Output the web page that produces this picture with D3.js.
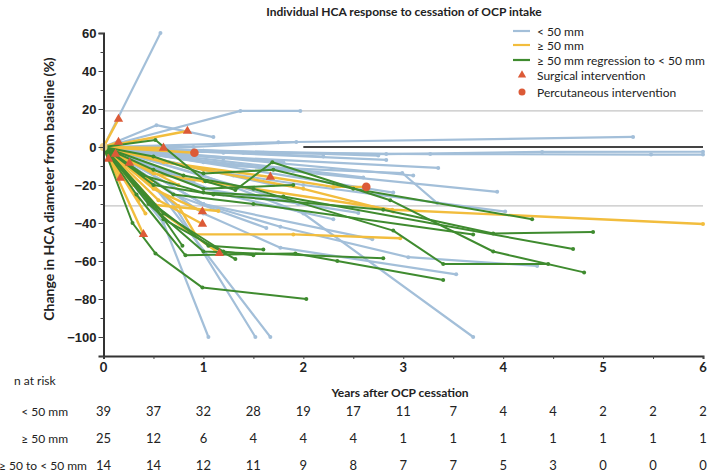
<!DOCTYPE html>
<html><head><meta charset="utf-8">
<script src="https://cdn.jsdelivr.net/npm/d3@7"></script>
<style>
body{margin:0;background:#fff;}
svg{display:block;font-family:Lato,"Open Sans",sans-serif;}
</style></head>
<body><svg id="c" width="709" height="474"></svg>
<script>
// ---------- DATA ----------
const chartTitle = "Individual HCA response to cessation of OCP intake";
const yAxisTitle = "Change in HCA diameter from baseline (%)";
const xAxisTitle = "Years after OCP cessation";
const yTickValues = [60,40,20,0,-20,-40,-60,-80,-100];
const xTickValues = [0,1,2,3,4,5,6];
const referenceLines = [19,-31];
const legendLabels = ["< 50 mm","≥ 50 mm","≥ 50 mm regression to < 50 mm","Surgical intervention","Percutaneous intervention"];
const riskTimes = [0,0.5,1,1.5,2,2.5,3,3.5,4,4.5,5,5.5,6];
const riskRowLabels = ["< 50 mm","≥ 50 mm","≥ 50 to < 50 mm"];
const riskLess50 = [39,37,32,28,19,17,11,7,4,4,2,2,2];
const riskGe50 = [25,12,6,4,4,4,1,1,1,1,1,1,1];
const riskRegress = [14,14,12,11,9,8,7,7,5,3,0,0,0];

// series: [year, % change]
const seriesLess50 = [
 [[0,0],[0.57,60]],
 [[0,0],[0.53,11.5],[1.1,5.2]],
 [[0,0],[1.37,19],[1.97,19]],
 [[0,0],[1.75,2.5],[5.3,5.3]],
 [[0,0],[0.5,-1],[1.0,-2],[2.83,-3.7],[4.39,-2.6],[6.0,-2.5]],
 [[0,0],[0.5,-2],[1.4,-3],[3.27,-3.7],[5.48,-4],[6.0,-4]],
 [[0,0],[0.6,-1],[2.75,-4.5]],
 [[0,0],[1.2,-3],[2.83,-6.8]],
 [[0,0],[0.7,-4],[3.35,-11]],
 [[0,0],[0.5,-3],[1.3,-10],[2.99,-13.7],[3.34,-29.5]],
 [[0,0],[1.0,-8],[3.94,-23.6]],
 [[0,0],[1.0,-12],[2.0,-20],[4.02,-34]],
 [[0,0],[1.0,-35],[1.77,-53],[3.53,-67]],
 [[0,0],[1.0,-30],[1.77,-42],[3.05,-58],[4.34,-62.6]],
 [[0,0],[1.0,-15],[2.0,-35],[3.7,-100]],
 [[0,0],[0.6,-40],[1.05,-100]],
 [[0,0],[0.7,-30],[1.52,-100]],
 [[0,0],[0.5,-20],[1.67,-100]],
 [[0,0],[1.0,-22],[2.55,-34.7]],
 [[0,0],[1.0,-30],[2.69,-48.5]],
 [[0,0],[0.7,-25],[1.63,-42.6]],
 [[0,0],[0.8,-6],[1.9,-12.6]],
 [[0,0],[0.9,0],[1.93,2.6]],
 [[0,0],[0.3,-2]],
 [[0,0],[0.4,-8]],
 [[0,0],[0.7,-3]],
 [[0,0],[0.8,-10]],
 [[0,0],[0.9,-18]],
 [[0,0],[1.2,-6]],
 [[0,0],[1.3,-15]],
 [[0,0],[1.6,-3]],
 [[0,0],[1.7,-20]],
 [[0,0],[1.8,-8]],
 [[0,0],[1.95,-30]],
 [[0,0],[2.2,-5]],
 [[0,0],[2.6,-16]],
 [[0,0],[2.9,-24]],
 [[0,0],[3.1,-15]],
 [[0,0],[1.2,-25],[2.3,-38]]
];
const seriesGe50 = [
 [[0,0],[0.15,14.7]],
 [[0,0],[0.15,2.6]],
 [[0,0],[0.12,-3.7]],
 [[0,0],[0.05,-6.3]],
 [[0,0],[0.26,-8.4]],
 [[0,0],[0.17,-16.3]],
 [[0,0],[0.84,8.4]],
 [[0,0],[0.6,-0.5]],
 [[0,0],[0.91,-3]],
 [[0,0],[0.4,-46]],
 [[0,0],[0.5,-22],[0.99,-34]],
 [[0,0],[0.55,-28],[0.99,-40.5]],
 [[0,0],[0.6,-35],[1.16,-56]],
 [[0,0],[0.52,-30.5],[1.15,-33.7]],
 [[0,0],[0.6,-8],[1.67,-15.8],[2.3,-21],[2.63,-21]],
 [[0,0],[0.75,-31],[0.92,-46],[1.9,-46],[2.97,-48]],
 [[0,0],[0.5,-14],[1.0,-18],[2.89,-33],[6.0,-40.5]],
 [[0,0],[1.0,-12],[2.0,-22],[2.9,-34]],
 [[0,0],[0.3,-20]],
 [[0,0],[0.45,-12]],
 [[0,0],[0.35,-28]],
 [[0,0],[0.42,-35]],
 [[0,0],[0.48,-18]],
 [[0,0],[0.25,-4]],
 [[0,0],[0.75,-20]]
];
const seriesRegress = [
 [[0,0],[0.29,-40],[0.52,-56],[0.99,-74],[2.03,-80]],
 [[0,0],[0.33,-25],[0.82,-57],[1.92,-56],[2.34,-60],[3.4,-70]],
 [[0,0],[0.5,-30],[0.79,-52]],
 [[0,0],[0.45,-28],[1.05,-52],[1.6,-54]],
 [[0,0],[0.6,-38],[1.32,-59]],
 [[0,0],[0.52,3.7],[1.02,-18],[1.32,-22.6],[1.69,-8],[2.87,-28],[3.9,-55],[4.81,-66]],
 [[0,0],[0.8,-15],[1.5,-22],[2.9,-44],[3.4,-61.6],[4.45,-61.6]],
 [[0,0],[0.5,-5],[1.0,-14],[1.7,-12],[2.5,-22],[4.29,-38]],
 [[0,0],[0.5,-20],[1.1,-25],[2.8,-33],[3.9,-45.5],[4.9,-44.7]],
 [[0,0],[0.4,-15],[1.0,-24],[1.8,-26],[4.7,-53.7]],
 [[0,0],[0.45,-30],[1.0,-55],[2.8,-58.5]],
 [[0,0],[0.5,-12],[1.0,-22],[1.9,-20]],
 [[0,0],[0.6,-35],[1.2,-55],[1.5,-57]],
 [[0,0],[0.7,-25],[1.5,-30],[3.7,-46]]
];
const surgicalPoints = [[0.15,14.7],[0.15,2.6],[0.12,-3.7],[0.05,-6.3],[0.26,-8.4],[0.17,-16.3],[0.84,8.4],[0.6,-0.5],[0.4,-46],[0.99,-34],[0.99,-40.5],[1.16,-56],[1.67,-15.8]];
const percutaneousPoints = [[0.91,-3],[2.63,-21]];

// ---------- STYLE ----------
const colLess = "#a3bfd9", colGe = "#f2bd3d", colReg = "#3f8b2f", colMark = "#dc5a37";

const svg = d3.select("#c");
const x = d3.scaleLinear().domain([0,6]).range([103.5,703]);
const y = d3.scaleLinear().domain([-110,60]).range([356,33]);

// reference lines
svg.selectAll(".ref").data(referenceLines).enter().append("line")
 .attr("x1",x(0)).attr("x2",x(6)).attr("y1",d=>y(d)).attr("y2",d=>y(d))
 .attr("stroke","#c4c4c4").attr("stroke-width",1.2);
svg.append("line").attr("x1",x(2)).attr("x2",x(6)).attr("y1",y(0)).attr("y2",y(0))
 .attr("stroke","#444").attr("stroke-width",2.2);

const line = d3.line().x(d=>x(d[0])).y(d=>y(d[1]));
function drawGroup(data,color,w){
  const g = svg.append("g");
  g.selectAll("path").data(data).enter().append("path")
   .attr("d",line).attr("fill","none").attr("stroke",color).attr("stroke-width",w)
   .attr("stroke-linejoin","round");
  data.forEach(s=>{
    g.selectAll(null).data(s.slice(1)).enter().append("circle")
     .attr("cx",d=>x(d[0])).attr("cy",d=>y(d[1])).attr("r",2).attr("fill",color);
  });
}
drawGroup(seriesLess50,colLess,2.2);
drawGroup(seriesGe50,colGe,2.4);
drawGroup(seriesRegress,colReg,2);
svg.append("circle").attr("cx",x(0)).attr("cy",y(0)).attr("r",4).attr("fill","#ecd08c");

const tri = d3.symbol().type(d3.symbolTriangle).size(38);
svg.selectAll(".tri").data(surgicalPoints).enter().append("path")
 .attr("d",tri).attr("transform",d=>`translate(${x(d[0])},${y(d[1])})`).attr("fill",colMark);
svg.selectAll(".dot").data(percutaneousPoints).enter().append("circle")
 .attr("cx",d=>x(d[0])).attr("cy",d=>y(d[1])).attr("r",4.3).attr("fill",colMark);

// axes
const yAxis = svg.append("g").attr("transform",`translate(${x(0)},0)`)
 .call(d3.axisLeft(y).tickValues(yTickValues).tickSize(5).tickFormat(d3.format("d")));
svg.append("g").attr("transform",`translate(${x(0)},0)`)
 .call(d3.axisLeft(y).tickValues(d3.range(-110,61,10).filter(v=>!yTickValues.includes(v))).tickSize(3).tickFormat(""))
 .call(g=>g.select(".domain").remove());
yAxis.select(".domain").attr("stroke","#333").attr("stroke-width",2);
svg.selectAll(".tick line").attr("stroke","#444");
yAxis.selectAll("text").attr("font-size",13).attr("font-weight",700).attr("fill","#222").attr("x",-7);

const xAxis = svg.append("g").attr("transform",`translate(0,${y(-110)})`)
 .call(d3.axisBottom(x).tickValues(d3.range(0,6.01,0.5)).tickSize(3).tickFormat(""));
xAxis.select(".domain").attr("stroke","#333").attr("stroke-width",2);
xAxis.selectAll(".tick line").attr("stroke","#444");
svg.selectAll(".xl").data(xTickValues).enter().append("text")
 .attr("x",d=>x(d)).attr("y",372).attr("text-anchor","middle")
 .attr("font-size",13).attr("font-weight",700).attr("fill","#222").text(d=>d);

// titles
svg.append("text").attr("x",404).attr("y",16).attr("text-anchor","middle")
 .attr("font-size",12).attr("font-weight",700).attr("fill","#222").text(chartTitle);
svg.append("text").attr("transform","translate(54,189) rotate(-90)").attr("text-anchor","middle")
 .attr("font-size",14).attr("font-weight",700).attr("fill","#222").text(yAxisTitle);
svg.append("text").attr("x",400).attr("y",397).attr("text-anchor","middle")
 .attr("font-size",12).attr("font-weight",700).attr("fill","#222").text(xAxisTitle);

// legend
const lg = svg.append("g");
const ly = [31,45,60,75,92];
[colLess,colGe,colReg].forEach((c,i)=>{
  lg.append("line").attr("x1",513).attr("x2",530).attr("y1",ly[i]).attr("y2",ly[i]).attr("stroke",c).attr("stroke-width",2.2);
});
lg.append("path").attr("d",d3.symbol().type(d3.symbolTriangle).size(30)).attr("transform",`translate(522,${ly[3]})`).attr("fill",colMark);
lg.append("circle").attr("cx",522).attr("cy",ly[4]).attr("r",3.5).attr("fill",colMark);
legendLabels.forEach((t,i)=>{
  lg.append("text").attr("x",537).attr("y",ly[i]+4.5).attr("font-size",12).attr("fill","#222").text(t);
});

// risk table
svg.append("text").attr("x",14).attr("y",385).attr("font-size",12).attr("fill","#222").text("n at  risk");
const rows = [riskLess50,riskGe50,riskRegress];
const rowY = [416,443,470];
riskRowLabels.forEach((t,i)=>{
  const tx = svg.append("text").attr("y",rowY[i]).attr("font-size",12).attr("fill","#222").text(t);
  if(i<2) tx.attr("x",68).attr("text-anchor","end"); else tx.attr("x",-1);
});
rows.forEach((r,i)=>{
  svg.selectAll(null).data(r).enter().append("text")
   .attr("x",(d,j)=>x(riskTimes[j])).attr("y",rowY[i]).attr("text-anchor","middle")
   .attr("font-size",13).attr("fill","#222").text(d=>d);
});
</script></body></html>
